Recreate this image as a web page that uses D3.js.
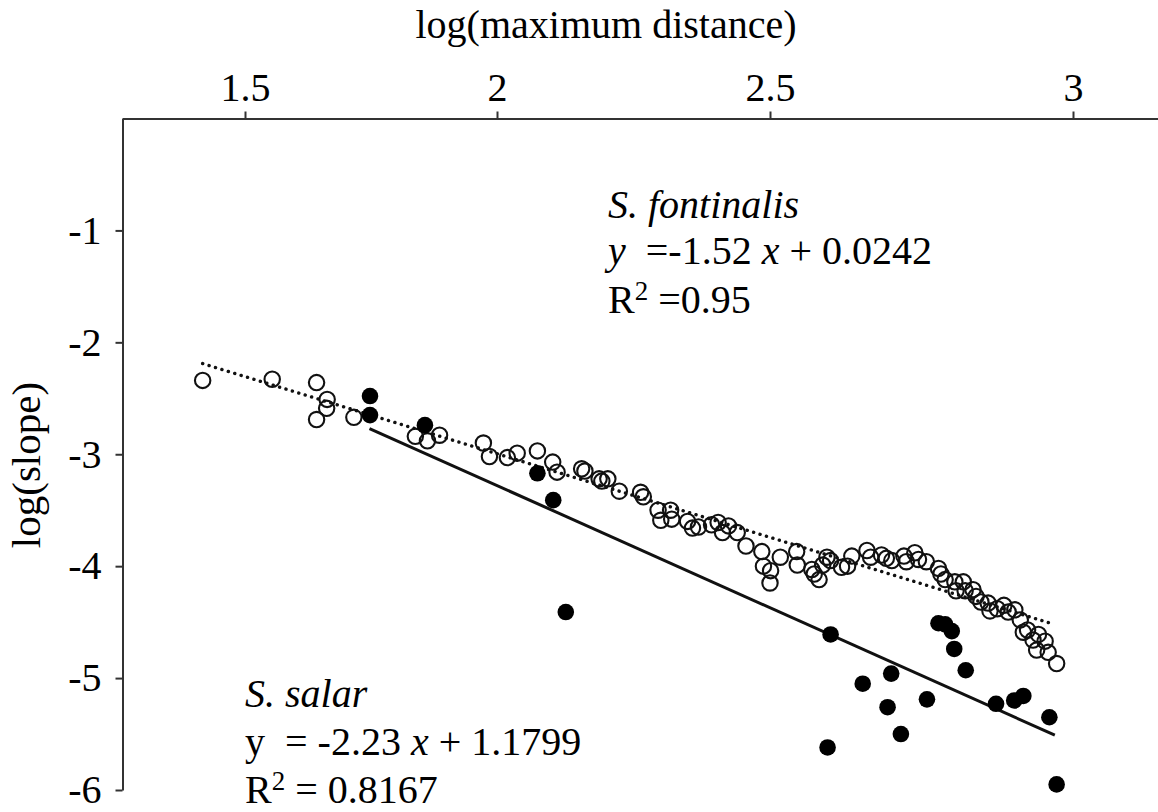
<!DOCTYPE html>
<html>
<head>
<meta charset="utf-8">
<script src="https://cdn.jsdelivr.net/npm/d3@7"></script>
<style>
  html, body { margin: 0; padding: 0; background: #fff; }
  svg { display: block; font-family: "Liberation Serif", "Times New Roman", serif; }
  text { white-space: pre; }
</style>
</head>
<body>
<svg id="chart" width="1158" height="812"></svg>
<script>
// ---- data (log(maximum distance), log(slope)) ----
const fontinalisX = [1.416,1.554,1.642,1.663,1.662,1.642,1.716,1.838,1.862,1.886,1.973,1.985,
  2.019,2.037,2.074,2.102,2.110,2.155,2.161,2.187,2.192,2.203,2.224,2.263,2.268,2.295,2.300,2.318,2.320,
  2.349,2.358,2.369,2.393,2.405,2.413,2.424,2.440,2.456,2.485,2.488,2.501,2.500,2.517,2.544,2.545,
  2.569,2.573,2.581,2.587,2.594,2.600,2.618,2.628,2.635,2.660,2.666,2.684,2.692,2.701,2.721,2.725,
  2.739,2.745,2.758,2.778,2.782,2.789,2.805,2.807,2.819,2.822,2.835,2.840,2.848,2.860,2.863,2.875,
  2.886,2.893,2.904,2.913,2.918,2.925,2.934,2.943,2.940,2.954,2.959,2.973];
const fontinalisY = [-2.34,-2.33,-2.36,-2.51,-2.59,-2.69,-2.67,-2.84,-2.88,-2.83,-2.90,-3.02,
  -3.03,-2.99,-2.97,-3.07,-3.16,-3.13,-3.15,-3.22,-3.24,-3.22,-3.33,-3.34,-3.38,-3.50,-3.59,-3.50,-3.58,
  -3.60,-3.66,-3.65,-3.63,-3.61,-3.70,-3.64,-3.70,-3.82,-3.87,-4.00,-4.04,-4.15,-3.92,-3.87,-3.99,
  -4.03,-4.07,-4.12,-3.99,-3.92,-3.95,-4.01,-4.00,-3.91,-3.86,-3.92,-3.90,-3.93,-3.95,-3.91,-3.96,
  -3.88,-3.94,-3.96,-4.02,-4.07,-4.12,-4.14,-4.22,-4.14,-4.22,-4.21,-4.27,-4.32,-4.33,-4.40,-4.38,
  -4.35,-4.41,-4.39,-4.48,-4.59,-4.57,-4.66,-4.61,-4.75,-4.67,-4.77,-4.87];

const salarX = [1.748,1.748,1.857,2.074,2.103,2.126,2.600,2.595,2.653,2.700,2.694,2.716,2.759,
  2.778,2.789,2.800,2.804,2.823,2.873,2.903,2.918,2.961,2.973];
const salarY = [-2.48,-2.65,-2.74,-3.17,-3.41,-4.41,-4.61,-5.62,-5.05,-4.96,-5.26,-5.50,-5.19,
  -4.51,-4.52,-4.58,-4.74,-4.93,-5.23,-5.20,-5.16,-5.35,-5.95];

// fitted lines (end points)
const fontinalisFitX = [1.416, 2.969];
const fontinalisFitY = [-2.19, -4.52];
const salarFitX = [1.747, 2.970];
const salarFitY = [-2.77, -5.51];

const xTicks = [1.5, 2, 2.5, 3];
const yTicks = [-1, -2, -3, -4, -5, -6];

const xTitle = "log(maximum distance)";
const yTitle = "log(slope)";

// ---- scales ----
const x = d3.scaleLinear()
  .domain([1.256, 1.5, 2, 2.5, 3, 3.140])
  .range([122, 245, 497, 770, 1073, 1158]);
const y = d3.scaleLinear().domain([0, -6]).range([118.5, 790]);

const svg = d3.select("#chart");

// ---- axes ----
const gx = svg.append("g").attr("transform", "translate(0,118.5)")
  .call(d3.axisTop(x).tickValues(xTicks).tickFormat(d3.format("")).tickSize(7).tickSizeOuter(0).tickPadding(11));
const gy = svg.append("g").attr("transform", "translate(122.5,0)")
  .call(d3.axisLeft(y).tickValues(yTicks).tickFormat(d => "-" + Math.abs(d)).tickSize(7).tickSizeOuter(0).tickPadding(14));
[gx, gy].forEach(g => {
  g.select(".domain").attr("stroke", "#333").attr("stroke-width", 2);
  g.selectAll(".tick line").attr("stroke", "#333").attr("stroke-width", 2);
  g.selectAll(".tick text").attr("font-family", "Liberation Serif").attr("font-size", 40).attr("fill", "#000");
});

svg.append("text").attr("x", 606).attr("y", 38).attr("text-anchor", "middle")
  .attr("font-size", 40).text(xTitle);
svg.append("text").attr("transform", "translate(40,465) rotate(-90)").attr("text-anchor", "middle")
  .attr("font-size", 41).text(yTitle);

// ---- fitted lines ----
const line = d3.line().x(d => x(d[0])).y(d => y(d[1]));
svg.append("path").datum(fontinalisFitX.map((v, i) => [v, fontinalisFitY[i]]))
  .attr("d", line).attr("fill", "none").attr("stroke", "#111").attr("stroke-width", 3.4)
  .attr("stroke-linecap", "round").attr("stroke-dasharray", "0.1 6.6");
svg.append("path").datum(salarFitX.map((v, i) => [v, salarFitY[i]]))
  .attr("d", line).attr("fill", "none").attr("stroke", "#111").attr("stroke-width", 3);

// ---- points ----
svg.append("g").selectAll("circle").data(fontinalisX.map((v, i) => [v, fontinalisY[i]]))
  .join("circle").attr("cx", d => x(d[0])).attr("cy", d => y(d[1])).attr("r", 7.7)
  .attr("fill", "none").attr("stroke", "#111").attr("stroke-width", 2.1);
svg.append("g").selectAll("circle").data(salarX.map((v, i) => [v, salarY[i]]))
  .join("circle").attr("cx", d => x(d[0])).attr("cy", d => y(d[1])).attr("r", 8.3)
  .attr("fill", "#000");

// ---- annotations ----
function annot(x0, ys, lines) {
  lines.forEach((parts, i) => {
    const t = svg.append("text").attr("x", x0).attr("y", ys[i]).attr("font-size", 40);
    parts.forEach(p => {
      const s = t.append("tspan").text(p.t);
      if (p.i) s.attr("font-style", "italic");
      if (p.sup) s.attr("font-size", 27).attr("dy", -13);
      if (p.down) s.attr("dy", 13);
    });
  });
}
annot(608, [218, 264, 313], [
  [{t: "S. fontinalis", i: true}],
  [{t: "y", i: true}, {t: "  =-1.52 "}, {t: "x", i: true}, {t: " + 0.0242"}],
  [{t: "R"}, {t: "2", sup: true}, {t: " =0.95", down: true}]
]);
annot(245, [707, 755, 803], [
  [{t: "S. salar", i: true}],
  [{t: "y  = -2.23 "}, {t: "x", i: true}, {t: " + 1.1799"}],
  [{t: "R"}, {t: "2", sup: true}, {t: " = 0.8167", down: true}]
]);
</script>
</body>
</html>
